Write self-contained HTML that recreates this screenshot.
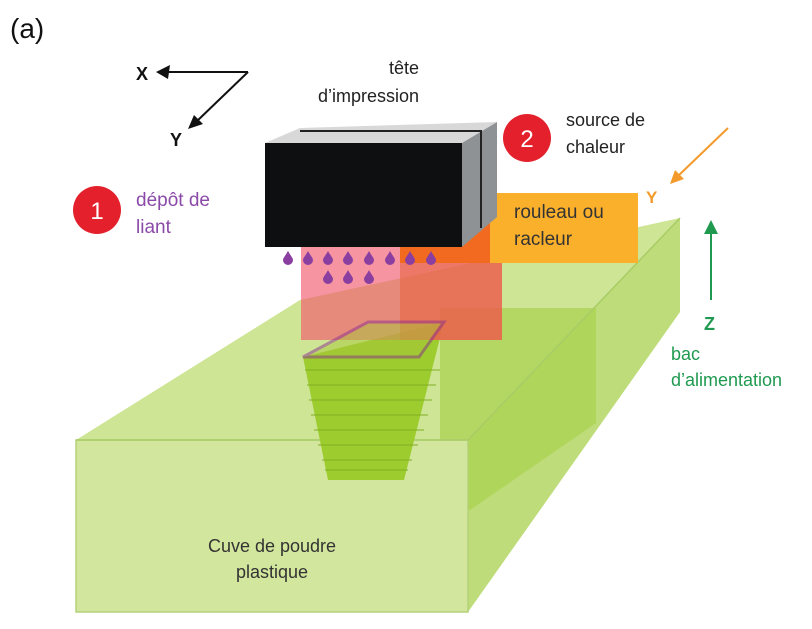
<!DOCTYPE html>
<html><head><meta charset="utf-8"><style>
body{margin:0;background:#fff}
svg{display:block}
text{font-family:"Liberation Sans",sans-serif}
</style></head><body>
<svg width="812" height="629" viewBox="0 0 812 629" xmlns="http://www.w3.org/2000/svg">
<rect width="812" height="629" fill="#fff"/>
<text x="10" y="38" font-size="28" fill="#111">(a)</text>
<!-- axes -->
<g stroke="#111" stroke-width="2" fill="none">
<line x1="248" y1="72" x2="165" y2="72"/>
<line x1="248" y1="72" x2="196" y2="122"/>
</g>
<polygon points="156,72 170,65 168,79" fill="#111"/>
<polygon points="188,129 194,115 203,124" fill="#111"/>
<text x="136" y="80" font-size="18" font-weight="bold" fill="#111">X</text>
<text x="170" y="146" font-size="18" font-weight="bold" fill="#111">Y</text>
<text x="419" y="74" font-size="18" fill="#222" text-anchor="end">tête</text>
<text x="419" y="102" font-size="18" fill="#222" text-anchor="end">d’impression</text>
<!-- big box -->
<polygon points="76,440 300,300 680,218 468,440" fill="#c8e28a" opacity="0.9"/>
<polygon points="468,440 680,218 680,312 468,612" fill="#b7d86c" opacity="0.9"/>
<polygon points="440,308 596,308 596,423 470,510 440,510" fill="#a9d14e" opacity="0.7"/>
<rect x="76" y="440" width="392" height="172" fill="#d3e69d" stroke="#b5d27a" stroke-width="1.5"/>
<line x1="76" y1="440" x2="468" y2="440" stroke="#a8cc66" stroke-width="1.5"/>
<line x1="468" y1="440" x2="680" y2="218" stroke="#a8cc66" stroke-width="1.5"/>
<text x="272" y="552" font-size="18" fill="#333" text-anchor="middle">Cuve de poudre</text>
<text x="272" y="578" font-size="18" fill="#333" text-anchor="middle">plastique</text>
<!-- stack -->
<polygon points="303,357 444,322 404,480 328,480" fill="#9ccc2e"/>
<g stroke="#7fae22" stroke-width="1">
<line x1="305" y1="370" x2="440" y2="370"/><line x1="307" y1="385" x2="436" y2="385"/>
<line x1="309" y1="400" x2="432" y2="400"/><line x1="311" y1="415" x2="428" y2="415"/>
<line x1="314" y1="430" x2="424" y2="430"/><line x1="318" y1="445" x2="418" y2="445"/>
<line x1="322" y1="460" x2="412" y2="460"/><line x1="325" y1="470" x2="408" y2="470"/>
</g>
<!-- beam -->
<rect x="301" y="245" width="201" height="95" fill="#f25a6e" opacity="0.65"/>
<polygon points="400,245 490,217 502,217 502,263 400,263" fill="#f26a1f"/>
<polygon points="400,263 502,263 502,340 400,340" fill="#e8603a" opacity="0.55"/>
<polygon points="368,322 444,322 419,357 303,357" fill="#a8c83a" opacity="0.5" stroke="#8b2e8f" stroke-width="3"/>
<!-- roller -->
<rect x="490" y="193" width="148" height="70" fill="#fbb02c"/>
<text x="514" y="218" font-size="19" fill="#333">rouleau ou</text>
<text x="514" y="245" font-size="19" fill="#333">racleur</text>
<!-- head -->
<polygon points="265,143 300,128 497,122 462,143" fill="#d8d8d8"/>
<polygon points="462,143 497,122 497,217 462,247" fill="#8e9294"/>
<line x1="300" y1="131" x2="482" y2="131" stroke="#222" stroke-width="2"/>
<line x1="481" y1="131" x2="481" y2="228" stroke="#222" stroke-width="2"/>
<rect x="265" y="143" width="197" height="104" fill="#0e0f11"/>
<!-- drops -->
<g fill="#8a3fa0">
<path d="M288,251 q-5,8 0,12 q5,-4 0,-12z" transform="translate(0,0)"/>
</g>
<g fill="#8a3fa0" id="d">
<path d="M288,251 c-2,4 -5,7 -5,9 a5,5 0 0 0 10,0 c0,-2 -3,-5 -5,-9z"/>
<path d="M308,251 c-2,4 -5,7 -5,9 a5,5 0 0 0 10,0 c0,-2 -3,-5 -5,-9z"/>
<path d="M328,251 c-2,4 -5,7 -5,9 a5,5 0 0 0 10,0 c0,-2 -3,-5 -5,-9z"/>
<path d="M348,251 c-2,4 -5,7 -5,9 a5,5 0 0 0 10,0 c0,-2 -3,-5 -5,-9z"/>
<path d="M369,251 c-2,4 -5,7 -5,9 a5,5 0 0 0 10,0 c0,-2 -3,-5 -5,-9z"/>
<path d="M390,251 c-2,4 -5,7 -5,9 a5,5 0 0 0 10,0 c0,-2 -3,-5 -5,-9z"/>
<path d="M410,251 c-2,4 -5,7 -5,9 a5,5 0 0 0 10,0 c0,-2 -3,-5 -5,-9z"/>
<path d="M431,251 c-2,4 -5,7 -5,9 a5,5 0 0 0 10,0 c0,-2 -3,-5 -5,-9z"/>
<path d="M328,270 c-2,4 -5,7 -5,9 a5,5 0 0 0 10,0 c0,-2 -3,-5 -5,-9z"/>
<path d="M348,270 c-2,4 -5,7 -5,9 a5,5 0 0 0 10,0 c0,-2 -3,-5 -5,-9z"/>
<path d="M369,270 c-2,4 -5,7 -5,9 a5,5 0 0 0 10,0 c0,-2 -3,-5 -5,-9z"/>
</g>
<!-- circles -->
<circle cx="97" cy="210" r="24" fill="#e3202c"/>
<text x="97" y="219" font-size="24" fill="#fff" text-anchor="middle">1</text>
<text x="136" y="206" font-size="19" fill="#8b4aa8">dépôt de</text>
<text x="136" y="233" font-size="19" fill="#8b4aa8">liant</text>
<circle cx="527" cy="138" r="24" fill="#e3202c"/>
<text x="527" y="147" font-size="24" fill="#fff" text-anchor="middle">2</text>
<text x="566" y="126" font-size="18" fill="#222">source de</text>
<text x="566" y="153" font-size="18" fill="#222">chaleur</text>
<!-- orange arrow -->
<line x1="728" y1="128" x2="678" y2="176" stroke="#f39a2a" stroke-width="2"/>
<polygon points="670,184 675,170 684,179" fill="#f39a2a"/>
<text x="646" y="203" font-size="17" font-weight="bold" fill="#f39a2a">Y</text>
<!-- green arrow -->
<line x1="711" y1="300" x2="711" y2="232" stroke="#1f9a50" stroke-width="2"/>
<polygon points="711,220 704,234 718,234" fill="#1f9a50"/>
<text x="704" y="330" font-size="18" font-weight="bold" fill="#1f9a50">Z</text>
<text x="671" y="360" font-size="18" fill="#1f9a50">bac</text>
<text x="671" y="386" font-size="18" fill="#1f9a50">d’alimentation</text>
</svg>
</body></html>
